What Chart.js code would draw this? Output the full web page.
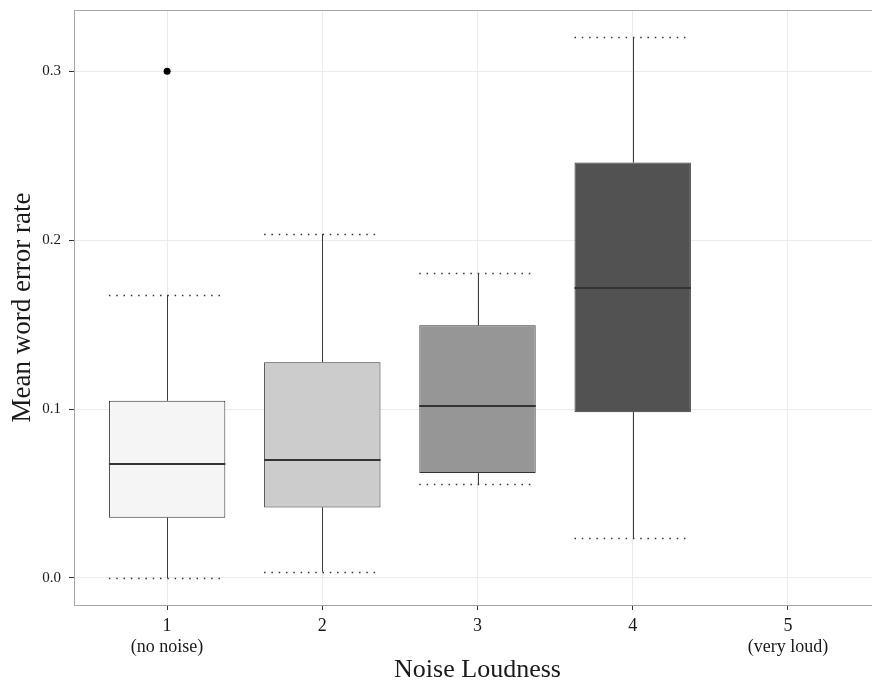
<!DOCTYPE html>
<html>
<head>
<meta charset="utf-8">
<title>Mean word error rate by noise loudness</title>
<script src="https://cdn.jsdelivr.net/npm/chart.js@4.4.1/dist/chart.umd.min.js"></script>
<style>
  html, body { margin: 0; padding: 0; background: #fff; overflow: hidden; }
  #frame { width: 872px; height: 686px; overflow: hidden; }
  #chart { display: block; }
</style>
</head>
<body>
<div id="frame"><canvas id="chart" width="885" height="686"></canvas></div>
<script>
// Noise loudness levels and their captions
const categories = ['1', '2', '3', '4', '5'];
const categoryNotes = ['(no noise)', '', '', '', '(very loud)'];

// Box-plot summaries of mean word error rate per loudness level
const whiskerLow  = [0.000, 0.0037, 0.0556, 0.0237, null];
const q1          = [0.0357, 0.0418, 0.0621, 0.0982, null];
const median      = [0.0676, 0.0698, 0.1018, 0.1716, null];
const q3          = [0.1049, 0.1278, 0.1497, 0.2460, null];
const whiskerHigh = [0.1675, 0.2036, 0.1805, 0.3203, null];
const outliers    = [[0.300], [], [], [], []];

// Y-axis tick values
const yTicks = [0.0, 0.1, 0.2, 0.3];

// Fill shade of each box
const boxFills = ['#f5f5f5', '#cccccc', '#969696', '#525252', '#ffffff'];

const SERIF = "'Liberation Serif', 'Times New Roman', serif";
const INK = '#1a1a1a';
const BOX_HALF = 0.375;   // half box width, in category units

const boxData = [];
const boxColors = [];
categories.forEach((c, i) => {
  if (q1[i] == null) return;
  boxData.push({ x: i + 1, y: [q1[i], q3[i]] });
  boxColors.push(boxFills[i]);
});
const outlierData = [];
outliers.forEach((list, i) => list.forEach(v => outlierData.push({ x: i + 1, y: v })));

// Whiskers, dotted caps, medians and the top frame line
const boxParts = {
  id: 'boxParts',
  beforeDatasetsDraw(chart) {
    const { ctx, chartArea, scales: { x, y } } = chart;
    ctx.save();
    ctx.strokeStyle = '#a6a6a6';
    ctx.lineWidth = 1;
    ctx.beginPath();
    ctx.moveTo(chartArea.left, chartArea.top + 0.5);
    ctx.lineTo(chartArea.right, chartArea.top + 0.5);
    ctx.stroke();

    categories.forEach((c, i) => {
      if (median[i] == null) return;
      const cx = Math.round(x.getPixelForValue(i + 1)) + 0.5;
      const left = x.getPixelForValue(i + 1 - BOX_HALF);
      const right = x.getPixelForValue(i + 1 + BOX_HALF);
      ctx.setLineDash([]);
      ctx.strokeStyle = '#3a3a3a';
      ctx.lineWidth = 1;
      ctx.beginPath();
      ctx.moveTo(cx, y.getPixelForValue(q3[i]));
      ctx.lineTo(cx, y.getPixelForValue(whiskerHigh[i]));
      ctx.moveTo(cx, y.getPixelForValue(q1[i]));
      ctx.lineTo(cx, y.getPixelForValue(whiskerLow[i]));
      ctx.stroke();

      ctx.setLineDash([1.5, 5.8]);
      ctx.strokeStyle = '#333333';
      ctx.lineWidth = 1.3;
      [whiskerHigh[i], whiskerLow[i]].forEach(v => {
        const py = Math.round(y.getPixelForValue(v)) + 0.5;
        ctx.beginPath();
        ctx.moveTo(left, py);
        ctx.lineTo(right, py);
        ctx.stroke();
      });
    });
    ctx.restore();
  },
  afterDatasetsDraw(chart) {
    const { ctx, scales: { x, y } } = chart;
    ctx.save();
    ctx.strokeStyle = '#333333';
    ctx.lineWidth = 2;
    categories.forEach((c, i) => {
      if (median[i] == null) return;
      const py = Math.round(y.getPixelForValue(median[i]));
      ctx.beginPath();
      ctx.moveTo(x.getPixelForValue(i + 1 - BOX_HALF), py);
      ctx.lineTo(x.getPixelForValue(i + 1 + BOX_HALF), py);
      ctx.stroke();
    });
    ctx.restore();
  }
};

new Chart(document.getElementById('chart'), {
  type: 'bar',
  data: {
    datasets: [
      {
        data: boxData,
        backgroundColor: boxColors,
        borderColor: '#333333',
        borderWidth: 1,
        borderSkipped: false,
        categoryPercentage: 1,
        barPercentage: 0.75
      },
      {
        type: 'scatter',
        data: outlierData,
        pointRadius: 3.5,
        pointBackgroundColor: '#000',
        pointBorderWidth: 0
      }
    ]
  },
  options: {
    responsive: false,
    animation: false,
    events: [],
    layout: { padding: { top: 10, left: 0, right: 0, bottom: 0 } },
    plugins: { legend: { display: false }, tooltip: { enabled: false } },
    scales: {
      x: {
        type: 'linear',
        min: 0.4,
        max: 5.6,
        offset: false,
        afterBuildTicks: ax => { ax.ticks = categories.map((c, i) => ({ value: i + 1 })); },
        afterFit: ax => { ax.height = 81; },
        grid: { offset: false, color: '#ebebeb', lineWidth: 1, tickColor: '#333', tickLength: 5 },
        border: { color: '#a6a6a6', width: 1 },
        ticks: {
          font: { family: SERIF, size: 18 },
          color: INK,
          padding: 5,
          maxRotation: 0,
          autoSkip: false,
          callback: v => {
            const i = Math.round(v) - 1;
            return categoryNotes[i] ? [categories[i], categoryNotes[i]] : categories[i];
          }
        },
        title: {
          display: true,
          text: 'Noise Loudness',
          font: { family: SERIF, size: 26 },
          color: INK,
          padding: { top: 0, bottom: 0 }
        }
      },
      y: {
        min: -0.016,
        max: 0.3363,
        afterBuildTicks: ax => { ax.ticks = yTicks.map(v => ({ value: v })); },
        afterFit: ax => { ax.width = 74; ax.paddingTop = 0; ax.paddingBottom = 0; },
        grid: { color: '#ebebeb', lineWidth: 1, tickColor: '#333', tickLength: 5 },
        border: { color: '#a6a6a6', width: 1 },
        ticks: {
          font: { family: SERIF, size: 15 },
          color: INK,
          padding: 8,
          callback: v => v.toFixed(1)
        },
        title: {
          display: true,
          text: 'Mean word error rate',
          font: { family: SERIF, size: 27 },
          color: INK,
          padding: { top: 7, bottom: 0 }
        }
      }
    }
  },
  plugins: [boxParts]
});
</script>
</body>
</html>
